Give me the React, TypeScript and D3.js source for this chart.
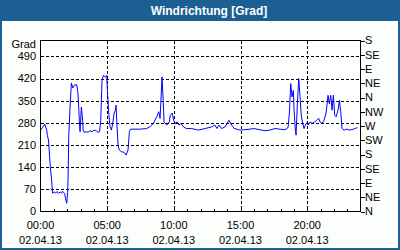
import React from "react";
import * as d3 from "d3";

const times: number[] = [0,9,19,28,31,36,44,50,54,61,68,74,81,88,95,99,104,109,113,118,122,124,127,133,139,145,154,163,169,175,178,184,190,192,196,205,214,223,232,241,250,259,266,271,277,283,292,298,301,307,313,319,325,331,337,340,343,349,355,364,376,385,394,400,406,425,448,478,493,508,523,532,538,547,552,556,568,574,580,584,593,599,608,614,623,632,644,656,680,710,740,770,785,794,803,815,830,848,860,866,871,884,898,943,960,988,1010,1033,1055,1078,1100,1114,1120,1126,1132,1138,1141,1147,1150,1156,1162,1168,1174,1180,1186,1192,1198,1204,1213,1222,1234,1243,1252,1258,1267,1276,1285,1294,1300,1306,1312,1318,1324,1330,1339,1345,1351,1357,1366,1378,1393,1408,1426];
const values: number[] = [257,265,276,257,240,226,142,100,58,62,58,63,57,62,58,64,60,55,40,26,60,100,236,330,406,390,400,400,372,283,252,330,283,257,250,252,250,255,252,257,255,250,252,288,414,430,425,430,383,310,268,257,278,310,320,336,288,210,194,189,187,178,194,252,260,260,260,262,268,278,299,315,294,425,351,283,273,278,283,304,311,288,278,283,273,278,267,262,262,257,262,267,273,262,273,262,267,288,273,268,262,260,257,260,262,258,255,257,262,260,258,265,310,404,362,382,320,257,241,342,420,362,299,278,262,273,280,273,283,278,283,288,294,283,278,288,310,367,340,367,320,367,304,299,320,351,315,262,257,260,257,260,265];

const leftTicks: number[] = [0,70,140,210,280,350,420,490];
const rightTicks: number[] = [0,45,90,135,180,225,270,315,360,405,450,495,540];
const rightLabels: string[] = ["N","NE","E","SE","S","SW","W","NW","N","NE","E","SE","S"];
const xMajor: number[] = [0,300,600,900,1200];
const xMajorLabels: string[] = ["00:00","05:00","10:00","15:00","20:00"];
const dateLabel = "02.04.13";
const title = "Windrichtung [Grad]";
const yUnit = "Grad";

export default function App() {
  const x = d3.scaleLinear().domain([0, 1440]).range([40.5, 360.5]);
  const y = d3.scaleLinear().domain([0, 540]).range([211.5, 40.5]);
  const data = times.map((t, i) => [t, values[i]] as [number, number]);
  const line = d3.line<[number, number]>().x(d => x(d[0])).y(d => y(d[1]));
  const hours = d3.range(1, 24);
  const font = "'Liberation Sans', Arial, sans-serif";
  const dash = "3,2";
  return (
    <svg width={400} height={250} style={{ position: "absolute", left: 0, top: 0, display: "block" }} fontFamily={font}>
      <rect x={0} y={0} width={400} height={250} fill="#1b5f93" />
      <rect x={2} y={21} width={396} height={227} fill="#fbfefb" />
      <text x={209} y={14.5} textAnchor="middle" fill="#ffffff" fontWeight="bold" fontSize={12}>{title}</text>
      <rect x={40.5} y={40.5} width={320} height={171} fill="#ffffff" stroke="none" />
      {leftTicks.filter(v => v > 0).map(v => (
        <line key={"hg" + v} x1={40.5} x2={360.5} y1={Math.round(y(v)) + 0.5} y2={Math.round(y(v)) + 0.5} stroke="#000" strokeDasharray={dash} shapeRendering="crispEdges" />
      ))}
      {xMajor.filter(v => v > 0).map(v => (
        <line key={"vg" + v} x1={Math.round(x(v)) + 0.5} x2={Math.round(x(v)) + 0.5} y1={40.5} y2={211.5} stroke="#000" strokeDasharray={dash} shapeRendering="crispEdges" />
      ))}
      {hours.map(h => (
        <line key={"mt" + h} x1={Math.round(x(h * 60)) + 0.5} x2={Math.round(x(h * 60)) + 0.5} y1={211.5} y2={208.5} stroke="#000" shapeRendering="crispEdges" />
      ))}
      <path d={line(data) || ""} fill="none" stroke="#0000ff" strokeWidth={1} />
      <rect x={40.5} y={40.5} width={320} height={171} fill="none" stroke="#000" shapeRendering="crispEdges" />
      {rightTicks.map(v => (
        <line key={"rt" + v} x1={360.5} x2={364.5} y1={Math.round(y(v)) + 0.5} y2={Math.round(y(v)) + 0.5} stroke="#000" shapeRendering="crispEdges" />
      ))}
      {leftTicks.map(v => (
        <text key={"lt" + v} x={36} y={y(v)} dy="0.36em" textAnchor="end" fontSize={11} fill="#000">{v}</text>
      ))}
      <text x={36} y={44.5} dy="0.36em" textAnchor="end" fontSize={11} fill="#000">{yUnit}</text>
      {rightTicks.map((v, i) => (
        <text key={"rl" + v} x={365} y={y(v)} dy="0.36em" textAnchor="start" fontSize={11} fill="#000">{rightLabels[i]}</text>
      ))}
      {xMajor.map((v, i) => (
        <g key={"xl" + v}>
          <text x={x(v)} y={229} textAnchor="middle" fontSize={11} fill="#000">{xMajorLabels[i]}</text>
          <text x={x(v)} y={244} textAnchor="middle" fontSize={11} fill="#000">{dateLabel}</text>
        </g>
      ))}
    </svg>
  );
}
